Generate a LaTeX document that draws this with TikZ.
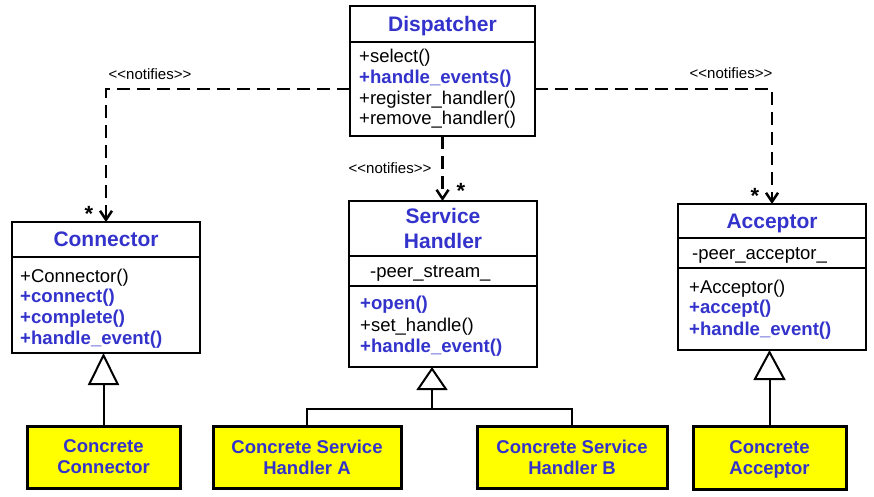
\documentclass[tikz,border=0pt]{standalone}
\usepackage{fontspec}
\setmainfont{Liberation Sans}
\usetikzlibrary{arrows.meta}
\definecolor{cblue}{RGB}{51,51,204}
\definecolor{cyellow}{RGB}{255,255,0}
\begin{document}
\begin{tikzpicture}[x=1pt,y=-1pt,
 comp/.style={draw, line width=2.5pt, inner sep=0pt, outer sep=0pt},
 ctitle/.style={comp, font=\fontsize{21}{25}\selectfont\bfseries, text=cblue, text depth=0pt, align=center},
 mem/.style={anchor=base west, inner sep=0pt, font=\fontsize{18.5}{21}\selectfont},
 bmem/.style={mem, font=\fontsize{18.6}{21}\selectfont\bfseries, text=cblue},
 concrete/.style={draw, line width=3pt, fill=cyellow, inner sep=0pt, outer sep=0pt, font=\fontsize{18.5}{21}\selectfont\bfseries, text=cblue, align=center},
 dep/.style={line width=2.5pt, dash pattern=on 13pt off 7pt, -{Straight Barb[length=9pt,width=12pt]}},
 inh/.style={line width=2pt},
 lbl/.style={inner sep=0pt, font=\fontsize{15}{17}\selectfont},
 star/.style={inner sep=0pt, anchor=base, font=\fontsize{22}{24}\selectfont\bfseries},
]
\useasboundingbox (0,0) rectangle (874,496);

% Dispatcher
\node[ctitle, minimum width=185pt, minimum height=36pt] (dispT) at (442.5,24) {Dispatcher};
\node[comp, minimum width=185pt, minimum height=94pt] (dispM) at (442.5,89) {};
\node[mem] (d1) at (359,62) {+select()};
\node[bmem] (d2) at (359,83) {+handle\_events()};
\node[mem] (d3) at (359,104) {+register\_handler()};
\node[mem] (d4) at (359,124.5) {+remove\_handler()};

% Connector
\node[ctitle, minimum width=188pt, minimum height=35pt] (connT) at (106,239.5) {Connector};
\node[comp, minimum width=188pt, minimum height=96pt] (connM) at (106,305) {};
\node[mem] (c1) at (20,282) {+Connector()};
\node[bmem] (c2) at (20,302) {+connect()};
\node[bmem] (c3) at (20,323) {+complete()};
\node[bmem] (c4) at (20,344) {+handle\_event()};

% Acceptor
\node[ctitle, minimum width=188pt, minimum height=34pt] (accT) at (772,221) {Acceptor};
\node[comp, minimum width=188pt, minimum height=30pt] (accA) at (772,253) {};
\node[comp, minimum width=188pt, minimum height=82pt] (accM) at (772,309) {};
\node[mem] (a0) at (692,259) {-peer\_acceptor\_};
\node[mem] (a1) at (689,293) {+Acceptor()};
\node[bmem] (a2) at (689,313) {+accept()};
\node[bmem] (a3) at (689,335) {+handle\_event()};

% Service Handler
\node[ctitle, minimum width=188pt, minimum height=55pt] (shT) at (443,228.5) {Service\\Handler};
\node[comp, minimum width=188pt, minimum height=30pt] (shA) at (443,271) {};
\node[comp, minimum width=188pt, minimum height=81pt] (shM) at (443,326.5) {};
\node[mem] (h0) at (370,277) {-peer\_stream\_};
\node[bmem] (h1) at (360,309) {+open()};
\node[mem] (h2) at (360,331) {+set\_handle()};
\node[bmem] (h3) at (360,352) {+handle\_event()};

% Concrete classes
\node[concrete, minimum width=153pt, minimum height=62pt] (cc) at (103.5,457) {Concrete\\Connector};
\node[concrete, minimum width=188pt, minimum height=62pt] (csa) at (307,457) {Concrete Service\\Handler A};
\node[concrete, minimum width=190pt, minimum height=62pt] (csb) at (572,457) {Concrete Service\\Handler B};
\node[concrete, minimum width=153pt, minimum height=63pt, text depth=0pt] (ca) at (769.5,457.5) {Concrete\\Acceptor};

% Dependencies
\draw[dep] (dispM.west) -| (connT.north);
\draw[dep] (dispM.east) -| (accT.north);
\draw[dep] (dispM.south) -- (dispM.south |- shT.north);

\node[lbl] (n1) at (150,74) {<\kern0pt<notifies>\kern0pt>};
\node[lbl] (n2) at (731,73) {<\kern0pt<notifies>\kern0pt>};
\node[lbl] (n3) at (390,168) {<\kern0pt<notifies>\kern0pt>};
\node[star] (s1) at (89,221) {*};
\node[star] (s2) at (755,203) {*};
\node[star] (s3) at (461,198) {*};

% Inheritance
\draw[inh, -{Triangle[open,length=32pt,width=31pt]}] (cc.north) -- (cc.north |- connM.south);
\coordinate (shJ) at (432,409);
\draw[inh] (csa.north) |- (shJ) -| (csb.north);
\draw[inh, -{Triangle[open,length=23pt,width=31pt]}] (shJ) -- (shJ |- shM.south);
\draw[inh, -{Triangle[open,length=30pt,width=32pt]}] (ca.north) -- (ca.north |- accM.south);
\end{tikzpicture}
\end{document}
